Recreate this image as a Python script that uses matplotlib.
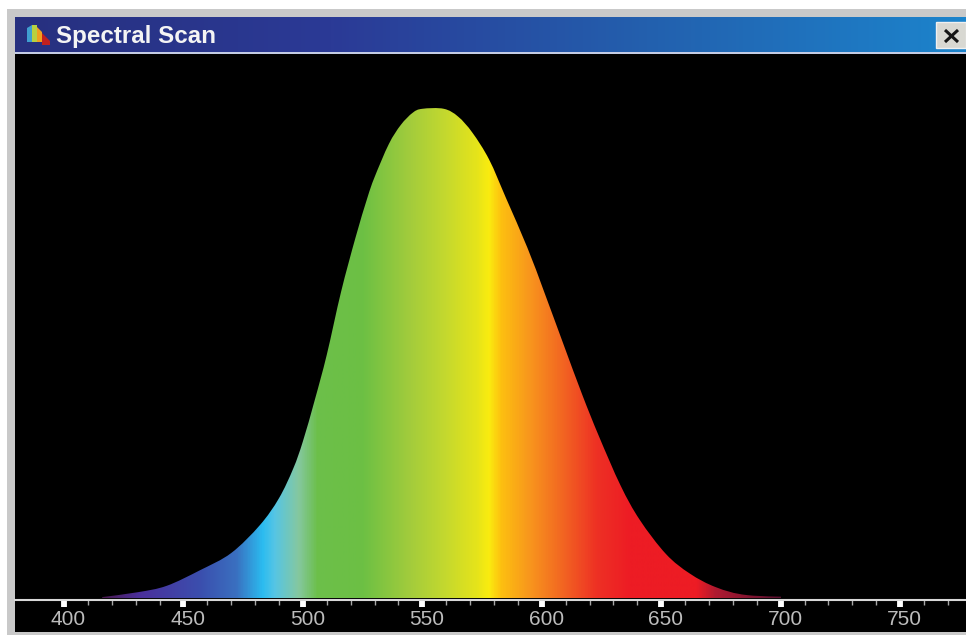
import numpy as np
import matplotlib
matplotlib.use('Agg')
import matplotlib.pyplot as plt
from matplotlib.colors import LinearSegmentedColormap
from matplotlib.patches import Polygon, Rectangle, PathPatch
from matplotlib.path import Path
from matplotlib.transforms import ScaledTranslation

# Curve (nm, percent of peak)
wavelength = [416, 431, 443, 457, 470, 482, 490, 496, 500, 505, 510, 516, 522, 527, 530, 536, 541, 546,
              550, 559, 565, 571, 578, 585, 594, 601, 609, 617, 624, 633, 641, 652, 662, 673, 686, 709]
intensity = [0.2, 1.2, 2.5, 5.7, 9.2, 14.9, 20.4, 26.5, 32, 40.5, 49.7, 62.6, 73.6, 81.8, 86, 92.8, 96.7, 99.2,
             100, 100, 98.4, 95.1, 89.6, 81.8, 71.6, 62.6, 52, 41.5, 33, 23, 16, 9, 5, 2.2, 0.6, 0.2]

# Colour stops of the spectrum fill
stop_nm = [416, 431, 457, 472, 483, 488, 498, 506, 525, 545, 560, 573, 578, 583, 595, 609, 623, 637, 665, 673, 700]
stop_colors = ['#4a1a50', '#4b2f9b', '#3b4fae', '#3a70c0', '#2bbcf0', '#55c5e5', '#85c8a0', '#6cbf4a',
               '#6cc044', '#a3cc3c', '#c5d92e', '#e6e41a', '#faec0f', '#fdc010', '#f8961d', '#f26522',
               '#ee3124', '#ed1c24', '#ed1c24', '#b01a30', '#5a1030']

major_ticks = [400, 450, 500, 550, 600, 650, 700, 750]
minor_ticks = [410, 420, 430, 440, 460, 470, 480, 490, 510, 520, 530, 540, 560, 570, 580, 590,
               610, 620, 630, 640, 660, 670, 680, 690, 710, 720, 730, 740, 760, 770]

W, H = 966, 635


# Smooth closed outline through the read points (Catmull-Rom as cubic beziers)
def curve_outline(xs, ys):
    pts = np.column_stack([xs, ys])
    verts = [(xs[0], 0), tuple(pts[0])]
    codes = [Path.MOVETO, Path.LINETO]
    for i in range(len(pts) - 1):
        p0 = pts[max(i - 1, 0)]
        p1 = pts[i]
        p2 = pts[i + 1]
        p3 = pts[min(i + 2, len(pts) - 1)]
        verts += [tuple(p1 + (p2 - p0) / 6), tuple(p2 - (p3 - p1) / 6), tuple(p2)]
        codes += [Path.CURVE4] * 3
    verts += [(xs[-1], 0), (xs[0], 0)]
    codes += [Path.LINETO, Path.CLOSEPOLY]
    return Path(verts, codes)


fig = plt.figure(figsize=(W / 100, H / 100), dpi=100, facecolor='white')

# Window frame, in pixel coordinates
chrome = fig.add_axes([0, 0, 1, 1], zorder=0)
chrome.add_patch(Rectangle((7, 9), W - 7, H - 9, fc='#c9c9c9', ec='none', zorder=1))
chrome.add_patch(Rectangle((15, 54), W - 15, 578, fc='black', ec='none', zorder=1))
bar_cmap = LinearSegmentedColormap.from_list('bar', ['#27307f', '#2b3a96', '#2360ae', '#1c84cc'])
chrome.imshow(np.linspace(0, 1, 256).reshape(1, -1), cmap=bar_cmap, aspect='auto',
              extent=(15, W, 52, 17), zorder=2)
chrome.add_patch(Rectangle((15, 52), W - 15, 2, fc='#c4cce4', ec='none', zorder=3))

# Little spectrum icon
chrome.add_patch(Polygon([(27, 42), (27, 28), (32, 25), (32, 42)], fc='#3f9fd0', ec='none', zorder=3))
chrome.add_patch(Polygon([(32, 42), (32, 25), (37, 25), (37, 42)], fc='#b8d040', ec='none', zorder=3))
chrome.add_patch(Polygon([(37, 42), (37, 27), (42, 32), (42, 42)], fc='#f0a020', ec='none', zorder=3))
chrome.add_patch(Polygon([(42, 45), (42, 33), (50, 41), (50, 45)], fc='#c02020', ec='none', zorder=3))
chrome.text(56, 36, 'Spectral Scan', color='#f4f4f4', fontsize=17.4, fontweight='bold',
            family='Liberation Sans', va='center', ha='left', zorder=4)

# Close button
chrome.add_patch(Rectangle((936, 22), 30, 26, fc='#d8d8d2', ec='#f0f0f0', lw=1, zorder=3))
chrome.plot([945, 958], [30, 42], color='#151515', lw=2.2, solid_capstyle='butt', zorder=4)
chrome.plot([945, 958], [42, 30], color='#151515', lw=2.2, solid_capstyle='butt', zorder=4)
chrome.set_xlim(0, W)
chrome.set_ylim(H, 0)
chrome.axis('off')

# Plot area
ax = fig.add_axes([15 / W, 1 - 600 / H, (W - 15) / W, 546 / H], zorder=1)
ax.set_facecolor('black')

stops = (np.array(stop_nm) - stop_nm[0]) / (stop_nm[-1] - stop_nm[0])
cmap = LinearSegmentedColormap.from_list('spectrum', list(zip(stops, stop_colors)), N=512)
img = ax.imshow(np.linspace(0, 1, 800).reshape(1, -1), cmap=cmap, aspect='auto',
                extent=(stop_nm[0], stop_nm[-1], 0, 100), interpolation='bilinear')
outline = PathPatch(curve_outline(wavelength, intensity), transform=ax.transData, fc='none', ec='none')
ax.add_patch(outline)
img.set_clip_path(outline)
ax.set_xlim(379.5, 777.6)
ax.set_ylim(-0.4, 111.2)

for side in ['top', 'left', 'right']:
    ax.spines[side].set_visible(False)
ax.spines['bottom'].set_color('#d8d8d8')
ax.spines['bottom'].set_linewidth(1.5)
ax.set_yticks([])
ax.set_xticks(major_ticks)
ax.set_xticks(minor_ticks, minor=True)
ax.tick_params(axis='x', which='major', direction='out', length=5, width=4.2, color='white', pad=2.5,
               labelcolor='#bcbcbc', labelsize=15)
ax.tick_params(axis='x', which='minor', direction='out', length=3.5, width=1, color='#a8a8a8')
shift = ScaledTranslation(4.5 / 100, 0, fig.dpi_scale_trans)
for lab in ax.get_xticklabels():
    lab.set_family('Liberation Sans')
    lab.set_transform(lab.get_transform() + shift)

fig.savefig('out.png', dpi=100, facecolor='white')
